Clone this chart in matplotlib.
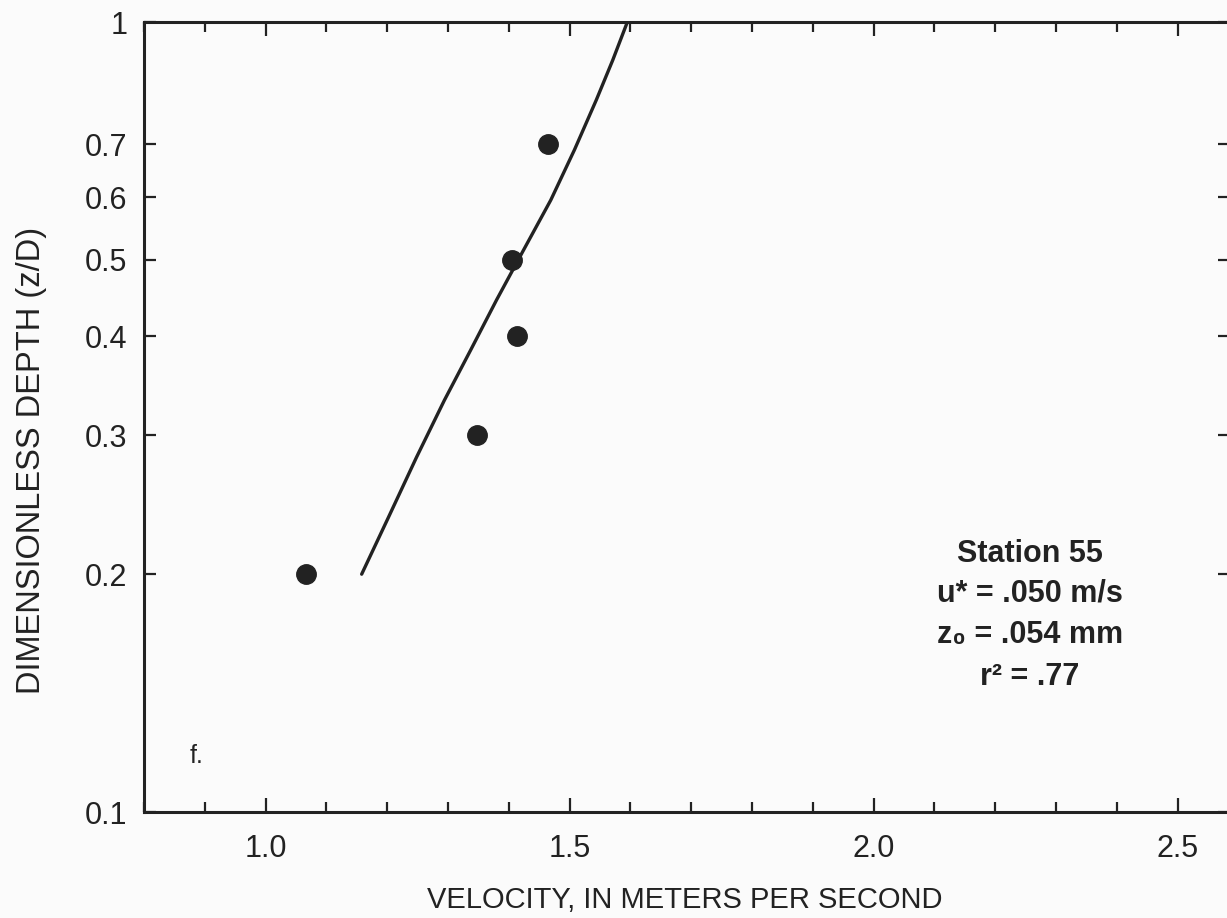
import matplotlib
matplotlib.use('Agg')
import matplotlib.pyplot as plt
from matplotlib.ticker import MultipleLocator, NullLocator, FixedLocator, FixedFormatter

# ---- data ----
obs_velocity = [1.066, 1.348, 1.413, 1.405, 1.464]
obs_depth = [0.2, 0.3, 0.4, 0.5, 0.7]

fit_velocity = [1.158, 1.202, 1.248, 1.294, 1.337, 1.380, 1.424, 1.469,
                1.508, 1.544, 1.571, 1.595]
fit_depth = [0.200, 0.236, 0.281, 0.332, 0.384, 0.445, 0.514, 0.595,
             0.689, 0.797, 0.895, 1.000]

y_ticks = [0.1, 0.2, 0.3, 0.4, 0.5, 0.6, 0.7, 1.0]
y_tick_labels = ['0.1', '0.2', '0.3', '0.4', '0.5', '0.6', '0.7', '1']
x_ticks = [1.0, 1.5, 2.0, 2.5]
x_tick_labels = ['1.0', '1.5', '2.0', '2.5']

annotation_lines = ['Station 55', 'u* = .050 m/s', 'z\u2080 = .054 mm', 'r\u00b2 = .77']
panel_label = 'f.'
x_label = 'VELOCITY, IN METERS PER SECOND'
y_label = 'DIMENSIONLESS DEPTH (z/D)'

# ---- figure ----
W, H = 1227, 918
ink = '#222222'
bg = '#fbfbfb'
fig = plt.figure(figsize=(W / 100, H / 100), dpi=100, facecolor=bg)

ax_left, ax_right, ax_top, ax_bottom = 144, 1230, 22, 812
ax = fig.add_axes([ax_left / W, 1 - ax_bottom / H,
                   (ax_right - ax_left) / W, (ax_bottom - ax_top) / H])
ax.set_facecolor(bg)

ax.set_yscale('log')
ax.set_ylim(0.1, 1.0)
ax.set_xlim(0.8, 0.8 + (ax_right - ax_left) / 608.0)

ax.plot(fit_velocity, fit_depth, color=ink, lw=2.4, solid_capstyle='round',
        solid_joinstyle='round', zorder=3)
ax.plot(obs_velocity, obs_depth, 'o', color=ink, ms=14, zorder=4)

# ticks
ax.yaxis.set_major_locator(FixedLocator(y_ticks))
ax.yaxis.set_major_formatter(FixedFormatter(y_tick_labels))
ax.yaxis.set_minor_locator(NullLocator())
ax.xaxis.set_major_locator(FixedLocator(x_ticks))
ax.xaxis.set_major_formatter(FixedFormatter(x_tick_labels))
ax.xaxis.set_minor_locator(MultipleLocator(0.1))

tick_family = ['Liberation Sans', 'DejaVu Sans']
ax.tick_params(axis='x', which='major', direction='in', top=True, bottom=True,
               length=10, width=1.6, color=ink, pad=16, labelcolor=ink)
ax.tick_params(axis='x', which='minor', direction='in', top=True, bottom=True,
               length=7, width=1.6, color=ink)
ax.tick_params(axis='y', which='major', direction='in', left=True, right=True,
               length=8.5, width=1.6, color=ink, pad=12, labelcolor=ink)
for lab in ax.get_xticklabels() + ax.get_yticklabels():
    lab.set_fontfamily(tick_family)
    lab.set_fontsize(22)

for s in ax.spines.values():
    s.set_linewidth(2.2)
    s.set_color(ink)

# axis titles
fig.text(685 / W, 1 - 908 / H, x_label, ha='center', va='baseline', color=ink,
         fontsize=21, family=['Liberation Sans', 'DejaVu Sans'])
fig.text(32 / W, 1 - 460 / H, y_label, ha='center', va='center', rotation=90, color=ink,
         fontsize=23.5, family=['Liberation Sans', 'DejaVu Sans'])

# annotation block
ann_x = (1030 - ax_left) / (ax_right - ax_left)
for line, base in zip(annotation_lines, [562, 601, 643, 685]):
    ax.text(ann_x, (ax_bottom - base) / (ax_bottom - ax_top), line,
            transform=ax.transAxes, ha='center', va='baseline', color=ink,
            fontsize=22, fontweight='bold', family=['Liberation Sans', 'DejaVu Sans'])

ax.text((190 - ax_left) / (ax_right - ax_left), (ax_bottom - 763) / (ax_bottom - ax_top),
        panel_label, transform=ax.transAxes, ha='left', va='baseline', color=ink,
        fontsize=18, family=['Liberation Sans', 'DejaVu Sans'])

fig.savefig('out.png', dpi=100, facecolor=bg)
